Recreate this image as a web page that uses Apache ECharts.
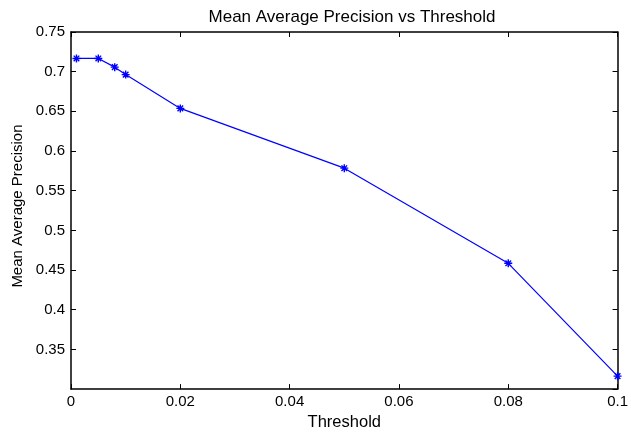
<!DOCTYPE html>
<html><head><meta charset="utf-8">
<script src="https://cdn.jsdelivr.net/npm/echarts@6/dist/echarts.min.js"></script>
<style>html,body{margin:0;padding:0;background:#fff}#c{width:631px;height:436px}</style>
</head><body><div id="c"></div>
<script>
const thresholds = [0.001, 0.005, 0.008, 0.01, 0.02, 0.05, 0.08, 0.1];
const mapValues = [0.7167, 0.7167, 0.7057, 0.6963, 0.6537, 0.5784, 0.4585, 0.3163];
const titleText = 'Mean Average Precision vs Threshold';
const xName = 'Threshold';
const yName = 'Mean Average Precision';

const font = 'Liberation Sans, Arial, Helvetica, sans-serif';
const chart = echarts.init(document.getElementById('c'));
const axisLine = {show: true, onZero: false, lineStyle: {color: '#000', width: 1.5}};
const tick = {show: true, inside: true, length: 5, lineStyle: {color: '#000', width: 1}};
const lbl = {color: '#000', fontFamily: font, fontSize: 15};
chart.setOption({
  animation: false,
  title: {text: titleText, left: 347, top: 4, textAlign: 'center',
    textStyle: {fontFamily: font, fontSize: 17, fontWeight: 'normal', color: '#000'}},
  grid: {left: 71, right: 9, top: 32, bottom: 35},
  xAxis: [
    {type: 'value', min: 0, max: 0.1, interval: 0.02, position: 'bottom',
     name: xName, nameLocation: 'middle', nameGap: 18,
     nameTextStyle: {fontFamily: font, fontSize: 16.5, color: '#000'},
     axisLine, axisTick: tick, splitLine: {show: false},
     axisLabel: Object.assign({margin: 5, formatter: v => String(+v.toFixed(2))}, lbl)},
    {type: 'value', min: 0, max: 0.1, interval: 0.02, position: 'top',
     axisLine, axisTick: tick, axisLabel: {show: false}, splitLine: {show: false}}
  ],
  yAxis: [
    {type: 'value', min: 0.3, max: 0.75, interval: 0.05, position: 'left',
     name: yName, nameLocation: 'middle', nameGap: 45, nameRotate: 90,
     nameTextStyle: {fontFamily: font, fontSize: 15, color: '#000', padding: [0, 0, 0, 9]},
     axisLine, axisTick: tick, splitLine: {show: false},
     axisLabel: Object.assign({margin: 6, showMinLabel: false, formatter: v => String(+v.toFixed(2))}, lbl)},
    {type: 'value', min: 0.3, max: 0.75, interval: 0.05, position: 'right',
     axisLine, axisTick: tick, axisLabel: {show: false}, splitLine: {show: false}}
  ],
  series: [{
    type: 'line',
    data: thresholds.map((t, i) => [t, mapValues[i]]),
    symbol: 'path://M0,5L10,5M5,0L5,10M1.5,1.5L8.5,8.5M8.5,1.5L1.5,8.5',
    symbolSize: 8,
    showAllSymbol: true,
    clip: false,
    lineStyle: {color: '#0000ff', width: 1.2},
    itemStyle: {color: '#0000ff', borderColor: '#0000ff', borderWidth: 1.4}
  }]
});
</script></body></html>
